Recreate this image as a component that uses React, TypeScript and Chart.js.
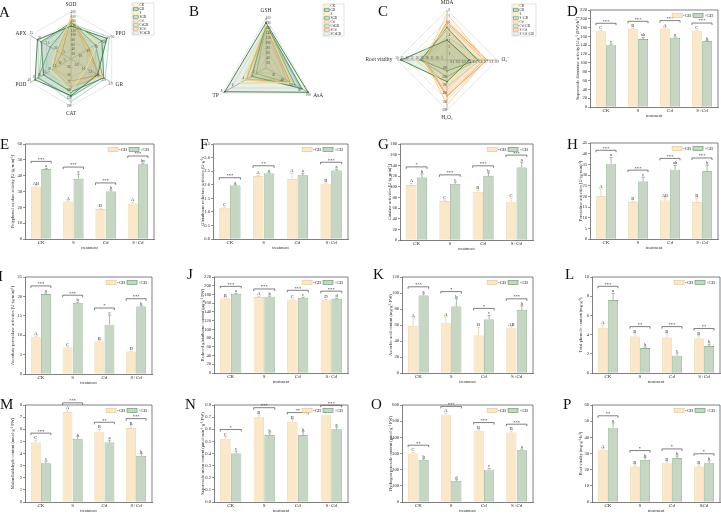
import React, { useEffect, useRef } from "react";
import { Chart, registerables } from "chart.js";

Chart.register(...registerables);

const SERIF = "'Liberation Serif', 'Times New Roman', Times, serif";
const INK = "#2b2b2b";
const AXIS = "#4a4a4a";
const NOGB_FILL = "#FBE8C9";
const NOGB_EDGE = "#E3C290";
const GB_FILL = "#C5D6C3";
const GB_EDGE = "#5F8E66";

const treatments = ["CK", "S", "Cd", "S+Cd"];
const treatmentsRoot = ["CK", "S", "Cd", "SCd"];
const gbLegend = ["-GB", "+GB"];

// D  superoxide dismutase
const sodNoGB = [172, 177, 178, 173];
const sodGB = [140, 154, 157, 149];
const sodNoGBErr = [2, 1.5, 2, 1.5];
const sodGBErr = [3, 4, 2, 1.5];
const sodNoGBLetters = ["C", "B", "A", "C"];
const sodGBLetters = ["c", "ab", "a", "b"];
const sodSig = ["***", "***", "***", "***"];

// E  polyphenol oxidase
const ppoNoGB = [33, 23.7, 18.9, 22.4];
const ppoGB = [44, 38, 30, 47.2];
const ppoNoGBErr = [0.6, 0.5, 0.5, 0.8];
const ppoGBErr = [0.6, 3, 1, 0.8];
const ppoNoGBLetters = ["AB", "A", "B", "A"];
const ppoGBLetters = ["a", "c", "b", "bc"];
const ppoSig = ["***", "***", "***", "***"];

// F  glutathione reductase
const grNoGB = [1.15, 2.31, 2.2, 2.04];
const grGB = [1.97, 2.41, 2.35, 2.52];
const grNoGBErr = [0.03, 0.04, 0.22, 0.02];
const grGBErr = [0.03, 0.03, 0.07, 0.05];
const grNoGBLetters = ["C", "A", "A", "B"];
const grGBLetters = ["a", "a", "a", "a"];
const grSig = ["***", "**", "", "***"];

// G  catalase
const catNoGB = [103, 73, 90, 71];
const catGB = [117, 105, 120, 136];
const catNoGBErr = [3, 2, 3, 8];
const catGBErr = [7, 4, 6, 10];
const catNoGBLetters = ["A", "C", "B", "C"];
const catGBLetters = ["b", "c", "b", "a"];
const catSig = ["*", "***", "***", "***"];

// H  peroxidase
const podNoGB = [20, 17.2, 18, 17.2];
const podGB = [35.3, 27, 32.5, 31.7];
const podNoGBErr = [3.5, 0.5, 1.2, 2];
const podGBErr = [3, 2, 2, 3];
const podNoGBLetters = ["A", "B", "AB", "B"];
const podGBLetters = ["a", "c", "ab", "b"];
const podSig = ["***", "***", "***", "***"];

// I  ascorbate peroxidase
const apxNoGB = [9.5, 6.8, 8.4, 5.8];
const apxGB = [20.6, 18.3, 12.7, 17.4];
const apxNoGBErr = [0.3, 0.2, 0.2, 0.1];
const apxGBErr = [0.3, 0.2, 2.5, 0.2];
const apxNoGBLetters = ["A", "C", "B", "D"];
const apxGBLetters = ["a", "b", "c", "b"];
const apxSig = ["***", "***", "*", "***"];

// J  reduced glutathione
const gshNoGB = [171, 174, 168, 167];
const gshGB = [181, 175, 172, 170];
const gshNoGBErr = [1.5, 1.5, 1.5, 1.5];
const gshGBErr = [1.5, 1.5, 1.5, 1.5];
const gshNoGBLetters = ["B", "A", "C", "D"];
const gshGBLetters = ["a", "b", "c", "d"];
const gshSig = ["***", "***", "***", "***"];

// K  ascorbic acid
const asaNoGB = [59, 62.5, 47, 56];
const asaGB = [97, 83, 67, 79];
const asaNoGBErr = [10, 8, 10, 2];
const asaGBErr = [2, 10, 5, 5];
const asaNoGBLetters = ["A", "A", "B", "AB"];
const asaGBLetters = ["a", "b", "c", "b"];
const asaSig = ["***", "*", "*", "***"];

// L  total phenolics
const tpNoGB = [4.7, 3.8, 3.7, 3.6];
const tpGB = [7.6, 2.6, 1.8, 2.8];
const tpNoGBErr = [0.3, 0.3, 0.4, 0.3];
const tpGBErr = [0.7, 0.1, 0.3, 0.2];
const tpNoGBLetters = ["A", "B", "B", "B"];
const tpGBLetters = ["a", "b", "c", "b"];
const tpSig = ["***", "**", "***", "**"];

// M  malondialdehyde
const mdaNoGB = [4.9, 7.4, 5.8, 6.1];
const mdaGB = [3.2, 5.2, 4.9, 3.8];
const mdaNoGBErr = [0.2, 0.2, 0.2, 0.2];
const mdaGBErr = [0.2, 0.2, 0.2, 0.2];
const mdaNoGBLetters = ["C", "A", "B", "B"];
const mdaGBLetters = ["c", "a", "a", "b"];
const mdaSig = ["***", "***", "**", "***"];

// N  superoxide anion
const o2NoGB = [0.52, 0.7, 0.66, 0.72];
const o2GB = [0.4, 0.55, 0.55, 0.6];
const o2NoGBErr = [0.02, 0.02, 0.02, 0.02];
const o2GBErr = [0.02, 0.02, 0.03, 0.02];
const o2NoGBLetters = ["C", "B", "B", "A"];
const o2GBLetters = ["c", "b", "b", "a"];
const o2Sig = ["*", "***", "**", "***"];

// O  hydrogen peroxide
const h2o2NoGB = [300, 540, 440, 430];
const h2o2GB = [260, 130, 200, 320];
const h2o2NoGBErr = [8, 8, 8, 8];
const h2o2GBErr = [8, 8, 8, 8];
const h2o2NoGBLetters = ["C", "A", "B", "B"];
const h2o2GBLetters = ["b", "d", "c", "a"];
const h2o2Sig = ["**", "***", "***", "***"];

// P  root vitality
const rootNoGB = [32, 22, 24, 22];
const rootGB = [46, 26, 27, 24];
const rootNoGBErr = [1, 1, 1, 1];
const rootGBErr = [3, 1.5, 1.5, 1.5];
const rootNoGBLetters = ["A", "B", "B", "B"];
const rootGBLetters = ["a", "b", "b", "b"];
const rootSig = ["**", "*", "*", "*"];

// radar series
const radarNames = ["CK", "GB", "S", "SGB", "Cd", "CdGB", "SCd", "SCdGB"];
const radarNamesPlus = ["CK", "GB", "S", "S+GB", "Cd", "Cd+GB", "S+Cd", "S+Cd+GB"];
const radarColors = ["#EAE49C", "#3C7A3F", "#F5D38A", "#4E8F5E", "#F6B06A", "#78AD88", "#EE8A3C", "#AAD4C4"];

const TICK_FS = 4.6;
const TITLE_FS = 4.4;
const CAT_FS = 5;
const LETTER_FS = 4.6;

function bp(key, x0, y0, w, plot, titleX, title, max, step, decimals, labels, noGB, gb, noGBErr, gbErr, noGBLetters, gbLetters, sig) {
  return { key, x0, y0, w, plot, titleX, title, max, step, decimals, labels, noGB, gb, noGBErr, gbErr, noGBLetters, gbLetters, sig };
}

const barPanels = [
  bp("D", 540, 0, 181, [590, 10, 718, 107], 578, "Superoxide dismutase activity [U·g⁻¹ (FW)·h⁻¹]", 220, 20, 0, treatments, sodNoGB, sodGB, sodNoGBErr, sodGBErr, sodNoGBLetters, sodGBLetters, sodSig),
  bp("E", 0, 130, 180, [25, 144, 154, 239], 13, "Polyphenol oxidase activity [U·(g·min)⁻¹]", 60, 10, 0, treatments, ppoNoGB, ppoGB, ppoNoGBErr, ppoGBErr, ppoNoGBLetters, ppoGBLetters, ppoSig),
  bp("F", 180, 130, 180, [213, 144, 348, 239], 203, "Glutathione reductase activities (U·g⁻¹)", 3.5, 0.5, 1, treatments, grNoGB, grGB, grNoGBErr, grGBErr, grNoGBLetters, grGBLetters, grSig),
  bp("G", 360, 130, 180, [400, 144, 533, 240], 390, "Catalase activities [U·(g·min)⁻¹]", 180, 20, 0, treatments, catNoGB, catGB, catNoGBErr, catGBErr, catNoGBLetters, catGBLetters, catSig),
  bp("H", 540, 130, 181, [590, 143, 718, 239], 581, "Peroxidase activities [U·(g·min)⁻¹]", 45, 5, 0, treatments, podNoGB, podGB, podNoGBErr, podGBErr, podNoGBLetters, podGBLetters, podSig),
  bp("I", 0, 260, 180, [25, 277, 152, 374], 13, "Ascorbate peroxidase activities [U·(g·min)⁻¹]", 25, 5, 0, treatments, apxNoGB, apxGB, apxNoGBErr, apxGBErr, apxNoGBLetters, apxGBLetters, apxSig),
  bp("J", 180, 260, 180, [214, 277, 348, 373], 203, "Reduced glutathione content (μg·g⁻¹ FW)", 220, 20, 0, treatments, gshNoGB, gshGB, gshNoGBErr, gshGBErr, gshNoGBLetters, gshGBLetters, gshSig),
  bp("K", 360, 260, 180, [402, 277, 533, 373], 391, "Ascorbic acid content (mg·g⁻¹ FW)", 120, 20, 0, treatments, asaNoGB, asaGB, asaNoGBErr, asaGBErr, asaNoGBLetters, asaGBLetters, asaSig),
  bp("L", 540, 260, 181, [592, 277, 720, 373], 581, "Total phenolic content (mg·g⁻¹)", 10, 2, 0, treatments, tpNoGB, tpGB, tpNoGBErr, tpGBErr, tpNoGBLetters, tpGBLetters, tpSig),
  bp("M", 0, 390, 180, [25, 405, 152, 502], 13, "Malondialdehyde content (nmol·g⁻¹ FW)", 8, 1, 0, treatments, mdaNoGB, mdaGB, mdaNoGBErr, mdaGBErr, mdaNoGBLetters, mdaGBLetters, mdaSig),
  bp("N", 180, 390, 180, [214, 405, 348, 502], 203, "Superoxide anion content (μmol·min⁻¹·g⁻¹ FW)", 0.8, 0.1, 1, treatments, o2NoGB, o2GB, o2NoGBErr, o2GBErr, o2NoGBLetters, o2GBLetters, o2Sig),
  bp("O", 360, 390, 180, [402, 405, 533, 502], 391, "Hydrogen peroxide content (μmol·g⁻¹ FW)", 600, 100, 0, treatments, h2o2NoGB, h2o2GB, h2o2NoGBErr, h2o2GBErr, h2o2NoGBLetters, h2o2GBLetters, h2o2Sig),
  bp("P", 540, 390, 181, [592, 405, 720, 502], 581, "Root vitality (mg·g⁻¹·h⁻¹)", 60, 10, 0, treatmentsRoot, rootNoGB, rootGB, rootNoGBErr, rootGBErr, rootNoGBLetters, rootGBLetters, rootSig),
];

const radarPanels = [
  {
    key: "A", x0: 0, y0: 0, w: 180, h: 128, cx: 71, cy: 59, R: 47,
    axes: ["SOD", "PPO", "GR", "CAT", "POD", "APX"],
    sources: [[sodNoGB, sodGB], [ppoNoGB, ppoGB], [grNoGB, grGB], [catNoGB, catGB], [podNoGB, podGB], [apxNoGB, apxGB]],
    maxes: [200, 50, 3, 150, 40, 25], steps: [20, 10, 0.5, 25, 5, 5], decimals: [0, 0, 1, 0, 0, 0],
    legend: [132, 3, 22, 32], names: radarNames,
  },
  {
    key: "B", x0: 180, y0: 0, w: 180, h: 128, cx: 266, cy: 68, R: 50,
    axes: ["GSH", "AsA", "TP"],
    sources: [[gshNoGB, gshGB], [asaNoGB, asaGB], [tpNoGB, tpGB]],
    maxes: [200, 100, 8], steps: [20, 20, 2], decimals: [0, 0, 0],
    legend: [323, 4, 21, 32], names: radarNames,
  },
  {
    key: "C", x0: 360, y0: 0, w: 180, h: 128, cx: 447, cy: 60, R: 50,
    axes: ["MDA", "O₂⁻", "H₂O₂", "Root vitality"],
    sources: [[mdaNoGB, mdaGB], [o2NoGB, o2GB], [h2o2NoGB, h2o2GB], [rootNoGB, rootGB]],
    maxes: [8, 0.9, 600, 50], steps: [1, 0.1, 100, 5], decimals: [0, 1, 0, 0],
    legend: [512, 4, 24, 32], names: radarNamesPlus,
  },
];

const panelLetters = [
  ["A", 4, 13], ["B", 194, 12], ["C", 383, 12], ["D", 572, 12],
  ["E", 5, 145], ["F", 205, 145], ["G", 383, 145], ["H", 572, 145],
  ["I", 3, 277], ["J", 192, 275], ["K", 378, 275], ["L", 570, 275],
  ["M", 5, 405], ["N", 190, 405], ["O", 376, 405], ["P", 568, 405],
];

function hexA(hex, a) {
  const n = parseInt(hex.slice(1), 16);
  return `rgba(${(n >> 16) & 255},${(n >> 8) & 255},${n & 255},${a})`;
}

function barDecor(p) {
  return {
    id: "barDecor" + p.key,
    afterDatasetsDraw(chart) {
      const { ctx, chartArea: a } = chart;
      const ys = chart.scales.y;
      ctx.save();
      ctx.strokeStyle = AXIS;
      ctx.lineWidth = 0.7;
      ctx.beginPath();
      ctx.moveTo(a.left, a.top);
      ctx.lineTo(a.right, a.top);
      ctx.lineTo(a.right, a.bottom);
      ctx.stroke();

      const series = [
        [p.noGB, p.noGBErr, p.noGBLetters, NOGB_EDGE],
        [p.gb, p.gbErr, p.gbLetters, GB_EDGE],
      ];
      const tops = [[], []];
      ctx.font = `${LETTER_FS}px ${SERIF}`;
      ctx.textAlign = "center";
      ctx.textBaseline = "alphabetic";
      series.forEach(([vals, errs, letters, col], s) => {
        const meta = chart.getDatasetMeta(s);
        meta.data.forEach((bar, i) => {
          const x = bar.x;
          const yv = ys.getPixelForValue(vals[i]);
          const yt = ys.getPixelForValue(vals[i] + errs[i]);
          ctx.strokeStyle = col;
          ctx.lineWidth = 0.6;
          ctx.beginPath();
          ctx.moveTo(x, yv);
          ctx.lineTo(x, yt);
          ctx.moveTo(x - 1.6, yt);
          ctx.lineTo(x + 1.6, yt);
          ctx.stroke();
          ctx.fillStyle = INK;
          ctx.fillText(letters[i], x, yt - 1);
          tops[s][i] = { x, yt, w: bar.width };
        });
      });

      for (let i = 0; i < p.sig.length; i++) {
        if (!p.sig[i]) continue;
        const l = tops[0][i];
        const r = tops[1][i];
        const yb = Math.min(l.yt, r.yt) - 7;
        const x1 = l.x - l.w / 2;
        const x2 = r.x + r.w / 2;
        ctx.strokeStyle = INK;
        ctx.lineWidth = 0.6;
        ctx.beginPath();
        ctx.moveTo(x1, yb + 2);
        ctx.lineTo(x1, yb);
        ctx.lineTo(x2, yb);
        ctx.lineTo(x2, yb + 2);
        ctx.stroke();
        ctx.fillStyle = INK;
        ctx.fillText(p.sig[i], (x1 + x2) / 2, yb - 0.6);
      }

      // legend, top-right inside the frame
      ctx.font = `${LETTER_FS}px ${SERIF}`;
      ctx.textBaseline = "middle";
      ctx.textAlign = "left";
      const cy = a.top + 5.5;
      const sw = 10, sh = 4;
      const t0 = ctx.measureText(gbLegend[0]).width;
      const t1 = ctx.measureText(gbLegend[1]).width;
      let x = a.right - 5 - t1 - 1 - sw - 2 - t0 - 1 - sw;
      const fills = [NOGB_FILL, GB_FILL];
      const edges = [NOGB_EDGE, GB_EDGE];
      [t0, t1].forEach((tw, k) => {
        ctx.fillStyle = fills[k];
        ctx.fillRect(x, cy - sh / 2, sw, sh);
        ctx.strokeStyle = edges[k];
        ctx.lineWidth = 0.6;
        ctx.strokeRect(x, cy - sh / 2, sw, sh);
        x += sw + 1;
        ctx.fillStyle = INK;
        ctx.fillText(gbLegend[k], x, cy);
        x += tw + 2;
      });
      ctx.restore();
    },
  };
}

function barConfig(p) {
  const [pl, pt, pr, pb] = p.plot;
  const h = pb + 11 - p.y0;
  const padLeft = p.titleX - p.x0 - (TITLE_FS * 1.2) / 2;
  const yWidth = pl - p.x0 - padLeft;
  const padTop = pt - p.y0;
  const padRight = p.x0 + p.w - pr;
  const xHeight = p.y0 + h - pb;
  return {
    h,
    config: {
      type: "bar",
      data: {
        labels: p.labels,
        datasets: [
          { label: gbLegend[0], data: p.noGB, backgroundColor: NOGB_FILL, borderColor: NOGB_EDGE, borderWidth: 0.6 },
          { label: gbLegend[1], data: p.gb, backgroundColor: GB_FILL, borderColor: GB_EDGE, borderWidth: 0.6 },
        ],
      },
      options: {
        responsive: false,
        animation: false,
        devicePixelRatio: 1,
        layout: { padding: { left: padLeft, top: padTop, right: padRight, bottom: 0 } },
        datasets: { bar: { categoryPercentage: 0.64, barPercentage: 0.96 } },
        plugins: { legend: { display: false }, tooltip: { enabled: false } },
        scales: {
          x: {
            grid: { display: false, drawTicks: false },
            border: { display: true, color: AXIS, width: 0.7 },
            ticks: { font: { family: SERIF, size: CAT_FS }, color: INK, padding: 0.6, maxRotation: 0, autoSkip: false },
            title: { display: true, text: "treatment", font: { family: SERIF, size: TITLE_FS }, color: INK, padding: 0 },
            afterFit: (s) => { s.height = xHeight; },
          },
          y: {
            min: 0,
            max: p.max,
            ticks: {
              stepSize: p.step,
              font: { family: SERIF, size: TICK_FS },
              color: INK,
              padding: 1,
              callback: (v) => Number(v).toFixed(p.decimals),
            },
            grid: { drawOnChartArea: false, drawTicks: true, tickLength: 2, color: AXIS, lineWidth: 0.6 },
            border: { display: true, color: AXIS, width: 0.7 },
            title: { display: true, text: p.title, font: { family: SERIF, size: TITLE_FS }, color: INK, padding: 0 },
            afterFit: (s) => { s.width = yWidth; },
          },
        },
      },
      plugins: [barDecor(p)],
    },
  };
}

function radarDecor(r) {
  return {
    id: "radarDecor" + r.key,
    afterDraw(chart) {
      const sc = chart.scales.r;
      const ctx = chart.ctx;
      ctx.save();
      // axis names
      ctx.fillStyle = INK;
      ctx.font = `5.4px ${SERIF}`;
      r.axes.forEach((name, i) => {
        const p = sc.getPointPosition(i, sc.drawingArea + 4.5);
        const dx = p.x - sc.xCenter;
        const dy = p.y - sc.yCenter;
        if (Math.abs(dx) < 2) {
          ctx.textAlign = "center";
          ctx.textBaseline = dy < 0 ? "bottom" : "top";
        } else {
          ctx.textAlign = dx > 0 ? "left" : "right";
          ctx.textBaseline = "middle";
        }
        ctx.fillText(name, p.x, p.y);
      });
      // per-axis value marks
      ctx.font = `3.2px ${SERIF}`;
      ctx.fillStyle = "#444";
      ctx.textAlign = "center";
      ctx.textBaseline = "middle";
      r.axes.forEach((_, i) => {
        const ang = sc.getIndexAngle(i) - Math.PI / 2;
        const nx = -Math.sin(ang);
        const ny = Math.cos(ang);
        const n = Math.round(r.maxes[i] / r.steps[i]);
        for (let k = 1; k <= n; k++) {
          const v = k * r.steps[i];
          const p = sc.getPointPosition(i, sc.getDistanceFromCenterForValue(v / r.maxes[i]));
          ctx.fillText(v.toFixed(r.decimals[i]), p.x + nx * 2.2, p.y + ny * 2.2);
        }
      });
      // legend box
      const [lx, ly, lw, lh] = r.legend;
      const ox = lx - r.x0;
      const oy = ly - r.y0;
      ctx.fillStyle = "#fff";
      ctx.fillRect(ox, oy, lw, lh);
      ctx.strokeStyle = "#bbb";
      ctx.lineWidth = 0.4;
      ctx.strokeRect(ox, oy, lw, lh);
      ctx.font = `3.4px ${SERIF}`;
      ctx.textAlign = "left";
      ctx.textBaseline = "middle";
      const row = lh / r.names.length;
      r.names.forEach((name, k) => {
        const cy = oy + row * (k + 0.5);
        ctx.fillStyle = hexA(radarColors[k], 0.15);
        ctx.fillRect(ox + 1.2, cy - 1.2, 5, 2.4);
        ctx.strokeStyle = radarColors[k];
        ctx.lineWidth = 0.7;
        ctx.strokeRect(ox + 1.2, cy - 1.2, 5, 2.4);
        ctx.fillStyle = INK;
        ctx.fillText(name, ox + 7.5, cy);
      });
      ctx.restore();
    },
  };
}

function radarConfig(r) {
  const padLeft = r.cx - r.R - r.x0;
  const padTop = r.cy - r.R - r.y0;
  const padRight = r.x0 + r.w - (r.cx + r.R);
  const padBottom = r.y0 + r.h - (r.cy + r.R);
  const datasets = r.names.map((name, k) => {
    const t = k >> 1;
    const side = k % 2;
    return {
      label: name,
      data: r.sources.map((src, a) => src[side][t] / r.maxes[a]),
      borderColor: radarColors[k],
      backgroundColor: hexA(radarColors[k], 0.12),
      borderWidth: 0.9,
      pointRadius: 0.9,
      pointBackgroundColor: radarColors[k],
      pointBorderWidth: 0,
      fill: true,
    };
  });
  return {
    h: r.h,
    config: {
      type: "radar",
      data: { labels: r.axes, datasets },
      options: {
        responsive: false,
        animation: false,
        devicePixelRatio: 1,
        layout: { padding: { left: padLeft, top: padTop, right: padRight, bottom: padBottom } },
        plugins: { legend: { display: false }, tooltip: { enabled: false } },
        scales: {
          r: {
            min: 0,
            max: 1,
            ticks: { display: false, stepSize: 0.2 },
            pointLabels: { display: false },
            grid: { circular: false, color: "#d6d6d6", lineWidth: 0.6 },
            angleLines: { color: "#8a8a8a", lineWidth: 0.6 },
          },
        },
      },
      plugins: [radarDecor(r)],
    },
  };
}

function ChartCanvas({ x, y, w, build }) {
  const ref = useRef(null);
  const built = build();
  useEffect(() => {
    const chart = new Chart(ref.current, build().config);
    return () => chart.destroy();
  }, []);
  return (
    <canvas
      ref={ref}
      width={w}
      height={built.h}
      style={{ position: "absolute", left: x, top: y, width: w, height: built.h }}
    />
  );
}

export default function App() {
  return (
    <div style={{ position: "absolute", left: 0, top: 0, width: 721, height: 518, background: "#fff", overflow: "hidden" }}>
      {radarPanels.map((r) => (
        <ChartCanvas key={r.key} x={r.x0} y={r.y0} w={r.w} build={() => radarConfig(r)} />
      ))}
      {barPanels.map((p) => (
        <ChartCanvas key={p.key} x={p.x0} y={p.y0} w={p.w} build={() => barConfig(p)} />
      ))}
      {panelLetters.map(([t, x, y]) => (
        <div
          key={t}
          style={{
            position: "absolute",
            left: x - 5,
            top: y - 8,
            fontFamily: SERIF,
            fontSize: 15,
            lineHeight: "15px",
            color: "#111",
          }}
        >
          {t}
        </div>
      ))}
    </div>
  );
}
